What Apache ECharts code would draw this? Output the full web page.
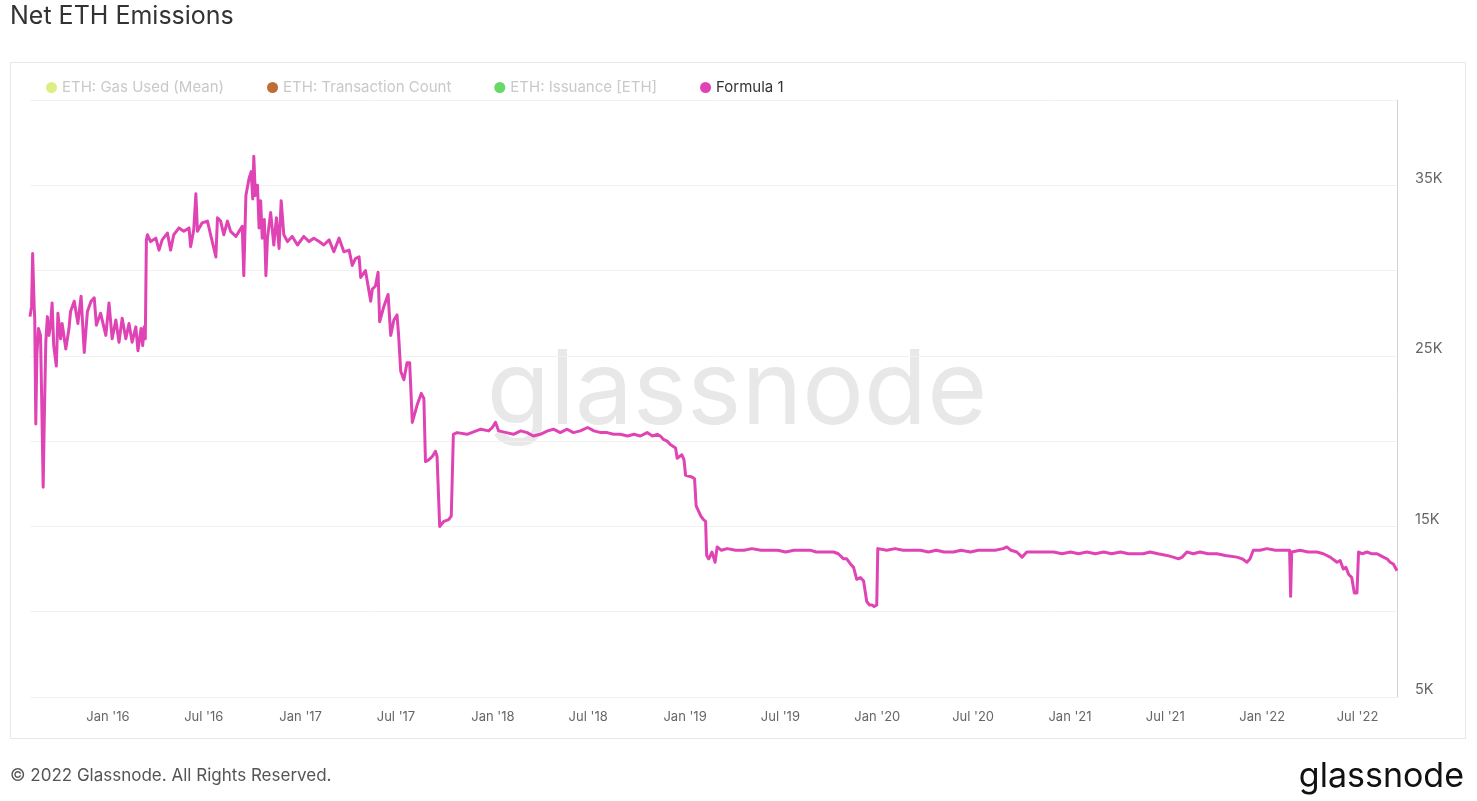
<!DOCTYPE html>
<html>
<head>
<meta charset="utf-8">
<script src="https://cdn.jsdelivr.net/npm/echarts@6/dist/echarts.min.js"></script>
<style>
html,body{margin:0;padding:0;background:#fff;}
#chart{width:1477px;height:801px;}
</style>
</head>
<body>
<div id="chart"></div>
<script>
// ---- Data ----
const seriesNames = ['ETH: Gas Used (Mean)', 'ETH: Transaction Count', 'ETH: Issuance [ETH]', 'Formula 1'];
const xTickDates = ['2016-01-01','2016-07-01','2017-01-01','2017-07-01','2018-01-01','2018-07-01','2019-01-01','2019-07-01','2020-01-01','2020-07-01','2021-01-01','2021-07-01','2022-01-01','2022-07-01'];
const yTickLabels = [5000, 15000, 25000, 35000];

const dates = [
'2015-08-06','2015-08-09','2015-08-11','2015-08-14','2015-08-15','2015-08-17','2015-08-19','2015-08-22','2015-08-26','2015-08-29',
'2015-08-31','2015-09-02','2015-09-05','2015-09-08','2015-09-11','2015-09-14','2015-09-17','2015-09-20','2015-09-25','2015-09-28',
'2015-10-03','2015-10-06','2015-10-13','2015-10-19','2015-10-22','2015-10-29','2015-11-05','2015-11-11','2015-11-17','2015-11-23',
'2015-11-30','2015-12-06','2015-12-10','2015-12-18','2015-12-28','2016-01-03','2016-01-09','2016-01-16','2016-01-22','2016-01-28',
'2016-02-04','2016-02-10','2016-02-16','2016-02-23','2016-02-27','2016-03-04','2016-03-07','2016-03-10','2016-03-12','2016-03-14',
'2016-03-16','2016-03-22','2016-04-01','2016-04-07','2016-04-13','2016-04-23','2016-04-29','2016-05-05','2016-05-15','2016-05-24',
'2016-06-03','2016-06-06','2016-06-12','2016-06-16','2016-06-19','2016-06-28','2016-07-08','2016-07-14','2016-07-24','2016-07-27',
'2016-08-02','2016-08-08','2016-08-15','2016-08-21','2016-08-31','2016-09-06','2016-09-12','2016-09-15','2016-09-19','2016-09-25',
'2016-09-29','2016-10-02','2016-10-04','2016-10-07','2016-10-11','2016-10-14','2016-10-17','2016-10-20','2016-10-24','2016-10-27',
'2016-10-30','2016-11-05','2016-11-11','2016-11-16','2016-11-21','2016-11-25','2016-11-30','2016-12-07','2016-12-16','2016-12-26',
'2017-01-07','2017-01-17','2017-01-26','2017-02-05','2017-02-14','2017-02-24','2017-03-05','2017-03-15','2017-03-24','2017-04-03',
'2017-04-09','2017-04-15','2017-04-22','2017-04-25','2017-05-04','2017-05-14','2017-05-17','2017-05-23','2017-05-28','2017-05-31',
'2017-06-08','2017-06-16','2017-06-21','2017-06-27','2017-07-03','2017-07-06','2017-07-10','2017-07-16','2017-07-22','2017-07-27',
'2017-08-01','2017-08-10','2017-08-18','2017-08-23','2017-08-26','2017-09-01','2017-09-08','2017-09-14','2017-09-17','2017-09-22',
'2017-09-30','2017-10-09','2017-10-14','2017-10-18','2017-10-25','2017-11-13','2017-12-09','2017-12-24','2017-12-31','2018-01-06',
'2018-01-12','2018-01-15','2018-01-27','2018-02-09','2018-02-23','2018-03-07','2018-03-19','2018-04-01','2018-04-15','2018-04-26',
'2018-05-09','2018-05-22','2018-06-03','2018-06-16','2018-06-30','2018-07-12','2018-07-25','2018-08-06','2018-08-18','2018-08-31',
'2018-09-14','2018-09-26','2018-10-08','2018-10-21','2018-10-31','2018-11-09','2018-11-15','2018-11-21','2018-11-28','2018-12-04',
'2018-12-14','2018-12-17','2018-12-20','2018-12-26','2018-12-30','2019-01-02','2019-01-05','2019-01-14','2019-01-19','2019-01-22',
'2019-01-31','2019-02-05','2019-02-09','2019-02-11','2019-02-15','2019-02-21','2019-02-24','2019-02-27','2019-03-03','2019-03-11',
'2019-03-22','2019-04-07','2019-04-23','2019-05-08','2019-05-25','2019-06-09','2019-06-26','2019-07-11','2019-07-27','2019-08-11',
'2019-08-28','2019-09-07','2019-09-21','2019-10-10','2019-10-19','2019-10-29','2019-11-04','2019-11-11','2019-11-17','2019-11-23',
'2019-11-30','2019-12-06','2019-12-09','2019-12-12','2019-12-17','2019-12-22','2019-12-26','2019-12-31','2020-01-02','2020-01-05',
'2020-01-19','2020-02-04','2020-02-19','2020-03-06','2020-03-23','2020-04-07','2020-04-22','2020-05-07','2020-05-25','2020-06-08',
'2020-06-26','2020-07-11','2020-07-27','2020-08-12','2020-08-27','2020-09-03','2020-09-11','2020-09-22','2020-10-02','2020-10-11',
'2020-10-27','2020-11-13','2020-12-01','2020-12-17','2021-01-02','2021-01-17','2021-02-02','2021-02-18','2021-03-06','2021-03-21',
'2021-04-07','2021-04-22','2021-05-07','2021-05-20','2021-06-02','2021-06-17','2021-07-04','2021-07-16','2021-07-26','2021-08-02',
'2021-08-11','2021-08-23','2021-09-05','2021-09-20','2021-10-07','2021-10-23','2021-11-14','2021-11-24','2021-12-03','2021-12-09',
'2021-12-15','2021-12-28','2022-01-10','2022-01-26','2022-02-10','2022-02-22','2022-02-24','2022-02-26','2022-03-14','2022-03-29',
'2022-04-15','2022-04-27','2022-05-10','2022-05-23','2022-05-29','2022-06-04','2022-06-09','2022-06-14','2022-06-20','2022-06-25',
'2022-06-30','2022-07-03','2022-07-10','2022-07-19','2022-07-27','2022-08-07','2022-08-13','2022-08-19','2022-08-26','2022-09-01',
'2022-09-07','2022-09-14'
];

const formula1 = [
27300,27900,31000,27800,27200,21000,25000,26600,26200,21000,
17300,21000,25800,27300,26200,26800,28100,25600,24400,27500,
26000,26900,25400,26600,27600,28200,26900,28500,25200,27600,
28200,28400,26800,27500,26200,28100,26000,27100,25800,27200,
26000,26900,25800,26700,25300,26600,25600,26700,26000,31800,
32100,31700,31900,31200,31800,32200,31200,32100,32500,32300,
32500,31400,32400,34500,32300,32800,32900,32100,30800,33100,
32900,32100,32900,32300,32000,32300,32600,29700,34400,35400,
35800,34200,36700,34400,35000,32500,34100,31900,33000,29700,
31900,33400,31500,33100,31300,34100,32100,31700,32000,31500,
32000,31700,31900,31700,31500,31800,31100,31900,31100,31200,
30300,30700,30800,29600,30000,28200,28900,29100,29900,27000,
27900,28600,26200,27100,27400,26200,24100,23600,24600,24600,
21100,22100,22800,22500,18800,18900,19100,19400,19100,15000,
15300,15400,15600,20400,20500,20400,20700,20600,20800,21100,
20600,20700,20500,20400,20600,20500,20300,20400,20600,20700,
20500,20700,20500,20600,20800,20600,20500,20500,20400,20400,
20300,20400,20300,20500,20300,20400,20300,20100,20000,19800,
19600,19000,19100,19200,18900,18000,18100,17900,17800,16200,
15600,15400,15300,13300,13100,13500,13400,12900,13800,13600,
13700,13600,13600,13700,13600,13600,13600,13500,13600,13600,
13600,13500,13500,13500,13400,13100,13100,12800,12600,11900,
12000,11800,11700,10600,10400,10400,10300,10400,13700,13800,
13600,13700,13600,13600,13600,13500,13600,13500,13500,13600,
13500,13600,13600,13600,13700,13800,13600,13500,13200,13500,
13500,13500,13500,13400,13500,13400,13500,13400,13500,13400,
13500,13400,13400,13400,13500,13400,13300,13200,13100,13200,
13500,13400,13500,13400,13400,13300,13200,13100,12900,13100,
13600,13600,13700,13600,13600,13600,10900,13500,13600,13500,
13500,13400,13200,12900,13000,12500,12600,12200,12000,11100,
11100,13500,13400,13500,13400,13400,13300,13200,13100,12900,
12800,12400
];

// ---- Chart ----
const chart = echarts.init(document.getElementById('chart'));
const FONT = 'Inter, "Noto Sans", sans-serif';
const MONTHS = ['Jan','Feb','Mar','Apr','May','Jun','Jul','Aug','Sep','Oct','Nov','Dec'];
const legendColors = ['#d2e85a', '#b4540f', '#33cc33', '#e044b4'];
const toMs = d => Date.parse(d + 'T00:00:00Z');

const option = {
  backgroundColor: '#ffffff',
  animation: false,
  title: {
    text: 'Net ETH Emissions',
    left: 10, top: 4, padding: 0,
    textStyle: { fontFamily: FONT, fontSize: 25, fontWeight: 'normal', color: '#333' }
  },
  legend: {
    left: 46, top: 80, padding: 0,
    icon: 'circle', itemWidth: 11, itemHeight: 11, itemGap: 43,
    textStyle: { fontFamily: FONT, fontSize: 15 },
    data: seriesNames.map((n, i) => ({
      name: n,
      itemStyle: { color: legendColors[i], opacity: i < 3 ? (i === 1 ? 0.85 : 0.75) : 1 },
      textStyle: { color: i < 3 ? '#c9c9c9' : '#333', fontFamily: FONT, fontSize: 15 }
    }))
  },
  graphic: [
    { type: 'rect', z: -10, silent: true,
      shape: { x: 10.5, y: 62.5, width: 1455, height: 676 },
      style: { fill: 'none', stroke: '#e6e6e6', lineWidth: 1 } },
    { type: 'text', z: -5, silent: true, x: 737, y: 393,
      style: { text: 'glassnode', font: 'normal 103px ' + FONT, fill: '#e8e8e8', align: 'center', verticalAlign: 'middle' } },
    { type: 'text', silent: true, x: 10, y: 776,
      style: { text: '\u00a9 2022 Glassnode. All Rights Reserved.', font: 'normal 17px ' + FONT, fill: '#555', align: 'left', verticalAlign: 'middle' } },
    { type: 'text', silent: true, x: 1464, y: 777,
      style: { text: 'glassnode', font: 'normal 34px ' + FONT, fill: '#111', align: 'right', verticalAlign: 'middle' } }
  ],
  grid: { left: 30, right: 80, top: 100, bottom: 104, containLabel: false },
  xAxis: {
    type: 'value',
    min: toMs('2015-08-06'), max: toMs('2022-09-14'),
    axisLine: { show: false },
    axisTick: { show: false },
    splitLine: { show: false },
    axisLabel: {
      customValues: xTickDates.map(toMs),
      hideOverlap: false,
      showMinLabel: true, showMaxLabel: true,
      margin: 14,
      fontFamily: FONT, fontSize: 13, color: '#666',
      formatter: function (v) {
        const d = new Date(v);
        return MONTHS[d.getUTCMonth()] + " '" + String(d.getUTCFullYear()).slice(2);
      }
    }
  },
  yAxis: {
    type: 'value', position: 'right',
    min: 5000, max: 40000, interval: 5000,
    axisLine: { show: true, lineStyle: { color: '#dccfd9', width: 1 } },
    axisTick: { show: false },
    splitLine: { show: true, lineStyle: { color: '#f1f1f1', width: 1 } },
    axisLabel: {
      margin: 18, fontFamily: FONT, fontSize: 14.5, color: '#666',
      verticalAlign: 'bottom', lineHeight: 14, padding: 0,
      formatter: function (v) { return yTickLabels.indexOf(v) >= 0 ? (v / 1000) + 'K' : ''; }
    }
  },
  series: [
    { name: seriesNames[0], type: 'line', data: [], color: legendColors[0] },
    { name: seriesNames[1], type: 'line', data: [], color: legendColors[1] },
    { name: seriesNames[2], type: 'line', data: [], color: legendColors[2] },
    { name: seriesNames[3], type: 'line', color: legendColors[3],
      showSymbol: false, symbol: 'none', z: 5,
      lineStyle: { width: 3, color: '#e044b4', join: 'round' },
      data: dates.map((d, i) => [toMs(d), formula1[i]]) }
  ]
};
chart.setOption(option);
</script>
</body>
</html>
